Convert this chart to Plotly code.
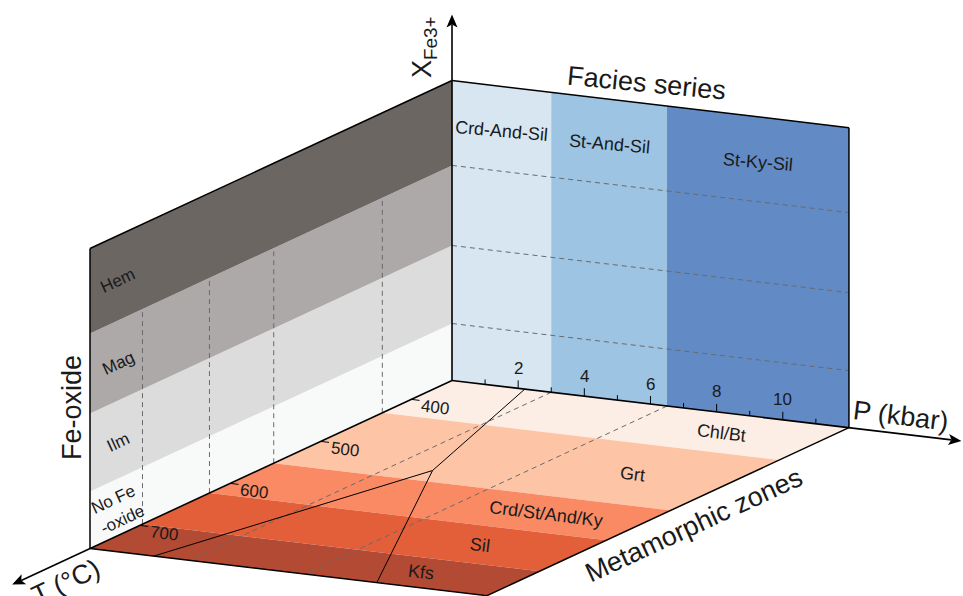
import numpy as np
import plotly.graph_objects as go

# ---------------- data ----------------
P_MIN, P_MAX = 0.0, 12.0          # kbar
T_MIN, T_MAX = 355.0, 755.0       # deg C
X_MIN, X_MAX = 0.0, 1.0           # X_Fe3+ (schematic)

P_ticks_major = [2, 4, 6, 8, 10]
P_ticks_minor = [1, 3, 5, 7, 9, 11]
T_ticks = [400, 500, 600, 700]

facies_names = ["Crd-And-Sil", "St-And-Sil", "St-Ky-Sil"]
facies_P_bounds = [0.0, 3.0, 6.5, 12.0]
facies_colors = ["#d8e6f2", "#9dc4e2", "#628ac4"]

oxide_names = ["No Fe<br>-oxide", "Ilm", "Mag", "Hem"]
oxide_X_bounds = [0.0, 0.19, 0.45, 0.717, 1.0]
oxide_colors = ["#f8f9f9", "#dcdcdc", "#ada9a8", "#6c6663"]

zone_names = ["Chl/Bt", "Grt", "Crd/St/And/Ky", "Sil", "Kfs"]
zone_T_bounds = [355.0, 432.0, 552.0, 623.0, 697.0, 755.0]
zone_colors = ["#fdeee5", "#fdc4a6", "#f98a64", "#e35f3a", "#b34a34"]

# Al2SiO5 reaction lines (P kbar, T degC)
and_ky_P, and_ky_T = [2.2, 4.2], [355.0, 530.0]
and_sil_P, and_sil_T = [4.2, 1.93], [530.0, 755.0]
ky_sil_P, ky_sil_T = [4.2, 8.67], [530.0, 755.0]

# ---------------- oblique projection (schematic 3-D box) ----------------
OX, OY = 452.0, 380.5
PX = (33.08, 3.93)       # screen shift per kbar
TX = (-0.905, 0.42)      # screen shift per degC
XH = 300.0               # screen height for X from 0 to 1


def proj(P, T, X=0.0):
    P = np.asarray(P, float)
    T = np.asarray(T, float)
    X = np.asarray(X, float)
    x = OX + P * PX[0] + (T - T_MIN) * TX[0]
    y = OY + P * PX[1] + (T - T_MIN) * TX[1] - X * XH
    return x, y


fig = go.Figure()


def poly(xs, ys, color):
    fig.add_trace(go.Scatter(x=list(xs) + [xs[0]], y=list(ys) + [ys[0]], mode="lines",
                             fill="toself", fillcolor=color, line=dict(width=0),
                             hoverinfo="skip", showlegend=False))


def line(xs, ys, color="#000000", width=1.0, dash=None):
    fig.add_trace(go.Scatter(x=list(xs), y=list(ys), mode="lines",
                             line=dict(color=color, width=width, dash=dash),
                             hoverinfo="skip", showlegend=False, cliponaxis=False))


# left wall (T-X plane at P=0): Fe-oxide bands
for i, c in enumerate(oxide_colors):
    xa, xb = oxide_X_bounds[i], oxide_X_bounds[i + 1]
    xs, ys = proj([0, 0, 0, 0], [T_MIN, T_MAX, T_MAX, T_MIN], [xa, xa, xb, xb])
    poly(xs, ys, c)

# back wall (P-X plane at T=T_MIN): facies series
for i, c in enumerate(facies_colors):
    pa, pb = facies_P_bounds[i], facies_P_bounds[i + 1]
    xs, ys = proj([pa, pb, pb, pa], [T_MIN] * 4, [0, 0, 1, 1])
    poly(xs, ys, c)

# floor (P-T plane): metamorphic zones
for i, c in enumerate(zone_colors):
    ta, tb = zone_T_bounds[i], zone_T_bounds[i + 1]
    xs, ys = proj([P_MIN, P_MAX, P_MAX, P_MIN], [ta, ta, tb, tb], [0, 0, 0, 0])
    poly(xs, ys, c)

DASH = "5px,4px"
DCOL = "#6a6a6a"
# dashed lines on left wall at zone boundaries
for t in zone_T_bounds[1:-1]:
    xs, ys = proj([0, 0], [t, t], [X_MIN, X_MAX])
    line(xs, ys, DCOL, 1.0, DASH)
# dashed lines on back wall at oxide boundaries
for xv in oxide_X_bounds[1:-1]:
    xs, ys = proj([P_MIN, P_MAX], [T_MIN, T_MIN], [xv, xv])
    line(xs, ys, DCOL, 1.0, DASH)
# dashed lines on floor at facies boundaries
for p in facies_P_bounds[1:-1]:
    xs, ys = proj([p, p], [T_MIN, T_MAX], [0, 0])
    line(xs, ys, DCOL, 1.0, DASH)

# Al2SiO5 reaction lines
for Ps, Ts in [(and_ky_P, and_ky_T), (and_sil_P, and_sil_T), (ky_sil_P, ky_sil_T)]:
    xs, ys = proj(Ps, Ts, [0, 0])
    line(xs, ys, "#000000", 1.0)

# box edges
edges = [
    ([0, 0], [T_MIN, T_MAX], [1, 1]),          # left wall top
    ([0, 0], [T_MAX, T_MAX], [0, 1]),          # left wall front
    ([0, P_MAX], [T_MIN, T_MIN], [1, 1]),      # back wall top
    ([P_MAX, P_MAX], [T_MIN, T_MIN], [0, 1]),  # back wall right
    ([0, P_MAX], [T_MAX, T_MAX], [0, 0]),      # floor front
    ([P_MAX, P_MAX], [T_MIN, T_MAX], [0, 0]),  # floor right
]
for Ps, Ts, Xs in edges:
    xs, ys = proj(Ps, Ts, Xs)
    line(xs, ys, "#000000", 1.5)

# axes with arrows
axes_ends = [
    (proj([0, 15.4], [T_MIN, T_MIN], [0, 0])),     # P
    (proj([0, 0], [T_MIN, 841.0], [0, 0])),        # T
    (proj([0, 0], [T_MIN, T_MIN], [0, 1.22])),     # X
]
for xs, ys in axes_ends:
    xs = np.asarray(xs); ys = np.asarray(ys)
    dx, dy = xs[1] - xs[0], ys[1] - ys[0]
    L = np.hypot(dx, dy)
    ux, uy = dx / L, dy / L
    nx, ny = -uy, ux
    tipx, tipy = xs[1], ys[1]
    AL, AW, AN = 13.0, 5.5, 3.0
    line([xs[0], tipx - (AL - AN) * ux], [ys[0], tipy - (AL - AN) * uy], "#000000", 1.6)
    hx = [tipx, tipx - AL * ux + AW * nx, tipx - (AL - AN) * ux, tipx - AL * ux - AW * nx]
    hy = [tipy, tipy - AL * uy + AW * ny, tipy - (AL - AN) * uy, tipy - AL * uy - AW * ny]
    poly(hx, hy, "#000000")

# P ticks (upwards, on back wall)
for p in P_ticks_major:
    x0, y0 = proj(p, T_MIN, 0)
    line([x0, x0], [y0, y0 - 8], "#000000", 1.0)
for p in P_ticks_minor:
    x0, y0 = proj(p, T_MIN, 0)
    line([x0, x0], [y0, y0 - 5], "#000000", 1.0)
# T ticks (into floor)
for t in T_ticks:
    xs, ys = proj([0.0, 0.25], [t, t], [0, 0])
    line(xs, ys, "#000000", 1.0)

FONT = "Liberation Sans, Arial, Helvetica, sans-serif"
TXT = "#1a1a1a"
ann = []


def label(x, y, text, size, angle=0.0):
    ann.append(dict(x=float(x), y=float(y), xref="x", yref="y", text=text, showarrow=False,
                    textangle=angle, font=dict(family=FONT, size=size, color=TXT),
                    xanchor="center", yanchor="middle"))


for p in P_ticks_major:
    x0, y0 = proj(p, T_MIN, 0)
    label(x0, y0 - 20, str(p), 17)
for t in T_ticks:
    x0, y0 = proj(0, t, 0)
    label(x0 + 24, y0 + 8, str(t), 17, 7)

# region labels
for i, name in enumerate(facies_names):
    pc = 0.5 * (facies_P_bounds[i] + facies_P_bounds[i + 1])
    x0, y0 = proj(pc, T_MIN, 0.85)
    label(x0, y0, name, 18, 5)
for i, name in enumerate(oxide_names):
    xc = 0.5 * (oxide_X_bounds[i] + oxide_X_bounds[i + 1])
    x0, y0 = proj(0, 724, xc)
    label(x0, y0 + 3, name, 17, -24.9)
for i, name in enumerate(zone_names):
    tc = 0.5 * (zone_T_bounds[i] + zone_T_bounds[i + 1])
    x0, y0 = proj(9.2, tc, 0)
    label(x0, y0, name, 18, 7)

# axis titles
label(646, 83, "Facies series", 27, 5.5)
label(72, 408, "Fe-oxide", 27, -90)
label(694, 525, "Metamorphic zones", 27, -24.8)
label(901, 416, "P (kbar)", 27, 7)
label(66, 582, "T (°C)", 27, -25)
label(424, 47, "X<sub>Fe3+</sub>", 27, -90)

fig.update_layout(
    width=963, height=596,
    margin=dict(l=0, r=0, t=0, b=0, pad=0),
    paper_bgcolor="white", plot_bgcolor="white",
    xaxis=dict(range=[0, 963], visible=False, fixedrange=True),
    yaxis=dict(range=[596, 0], visible=False, fixedrange=True),
    annotations=ann,
    showlegend=False,
)
fig.write_html("out.html", config={"displayModeBar": False},
               post_script="document.body.style.margin='0';document.body.style.overflow='hidden';")
